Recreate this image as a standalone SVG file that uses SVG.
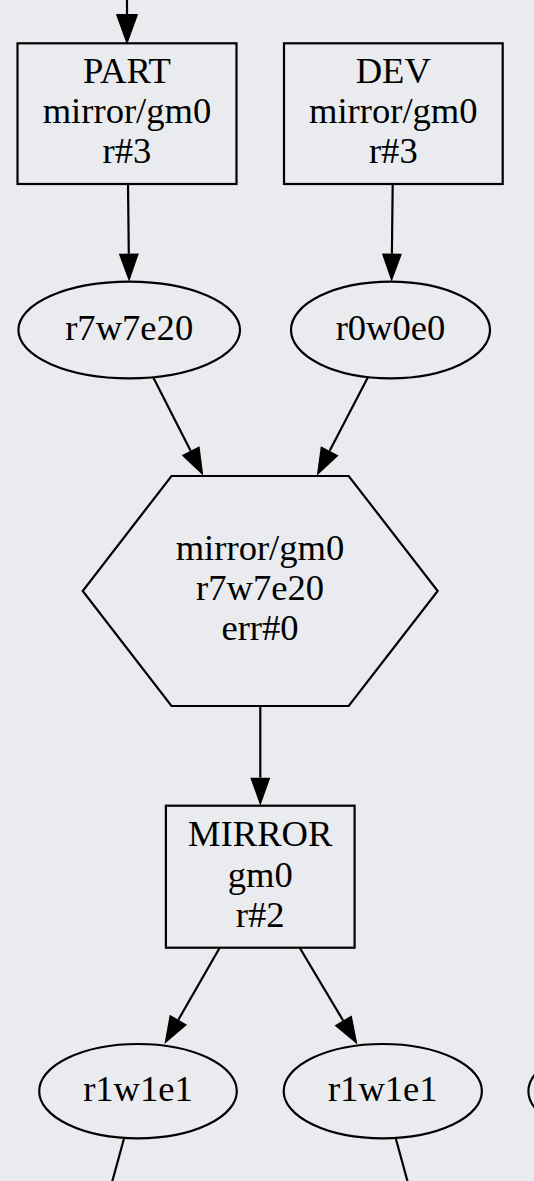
<svg xmlns="http://www.w3.org/2000/svg" width="534" height="1181" viewBox="0 0 534 1181">
  <defs>
    <marker id="arrow" markerUnits="userSpaceOnUse" markerWidth="30" markerHeight="22" viewBox="0 -11 30 22" refX="0" refY="0" orient="auto" overflow="visible">
      <path d="M0,-10 L28,0 L0,10 Z" fill="#000"/>
    </marker>
  </defs>
  <style>
    .shape { fill: none; stroke: #000; stroke-width: 2.2; }
    .edge { fill: none; stroke: #000; stroke-width: 2.2; }
    .label { font-family: "Liberation Serif", "Times New Roman", serif; font-size: 36.6px; fill: #000; text-anchor: middle; }
  </style>

  <rect x="0" y="0" width="534" height="1181" fill="#e9ebee"/>

  <!-- connectors -->
  <g id="edges">
    <path d="M127,0 L127,16" fill="none" stroke="#000" stroke-width="2.2"/>
    <path d="M116.5,14.5 L137.5,14.5 L127,43.5 Z" fill="#000" stroke="#000" stroke-width="1"/>
    <path class="edge" d="M128,184 L128.8,253.7" marker-end="url(#arrow)"/>
    <path class="edge" d="M392.7,184 L391.9,253.7" marker-end="url(#arrow)"/>
    <path class="edge" d="M153.3,377.5 L190.6,450.75" marker-end="url(#arrow)"/>
    <path class="edge" d="M367.8,377.5 L329.7,450.85" marker-end="url(#arrow)"/>
    <path class="edge" d="M260.3,706 L260.3,777.7" marker-end="url(#arrow)"/>
    <path class="edge" d="M219.7,947.7 L178.4,1019.7" marker-end="url(#arrow)"/>
    <path class="edge" d="M299.7,947.7 L343.1,1020.5" marker-end="url(#arrow)"/>
    <path class="edge" d="M124,1138.5 L111,1186"/>
    <path class="edge" d="M395.8,1138.5 L408.8,1186"/>
  </g>

  <!-- nodes -->
  <g id="part">
    <rect class="shape" x="17.5" y="43.3" width="219" height="140.7"/>
    <text class="label" x="127" y="83">PART</text>
    <text class="label" x="127" y="123">mirror/gm0</text>
    <text class="label" x="127" y="163">r#3</text>
  </g>
  <g id="dev">
    <rect class="shape" x="284" y="43.3" width="218.7" height="140.7"/>
    <text class="label" x="393.3" y="83">DEV</text>
    <text class="label" x="393.3" y="123">mirror/gm0</text>
    <text class="label" x="393.3" y="163">r#3</text>
  </g>
  <g id="stat-part">
    <ellipse class="shape" cx="129.2" cy="330" rx="110.8" ry="48.3"/>
    <text class="label" x="129.2" y="340">r7w7e20</text>
  </g>
  <g id="stat-dev">
    <ellipse class="shape" cx="390.5" cy="330" rx="99.5" ry="48.3"/>
    <text class="label" x="390.5" y="340">r0w0e0</text>
  </g>
  <g id="merge">
    <polygon class="shape" points="171.5,476 348.7,476 437.7,591 348.7,706 171.5,706 82.7,591"/>
    <text class="label" x="260" y="560">mirror/gm0</text>
    <text class="label" x="260" y="600">r7w7e20</text>
    <text class="label" x="260" y="639.5">err#0</text>
  </g>
  <g id="mirror">
    <rect class="shape" x="165.9" y="805.7" width="188.7" height="142"/>
    <text class="label" x="260.2" y="846">MIRROR</text>
    <text class="label" x="260.2" y="886.5">gm0</text>
    <text class="label" x="260.2" y="926.5">r#2</text>
  </g>
  <g id="stat-left">
    <ellipse class="shape" cx="138" cy="1091.2" rx="98.8" ry="47.2"/>
    <text class="label" x="138" y="1101">r1w1e1</text>
  </g>
  <g id="stat-right">
    <ellipse class="shape" cx="382.8" cy="1091.2" rx="99.1" ry="47.2"/>
    <text class="label" x="382.8" y="1101">r1w1e1</text>
  </g>
  <g id="stat-next">
    <ellipse class="shape" cx="627.5" cy="1091.2" rx="99.1" ry="47.2"/>
  </g>
</svg>
